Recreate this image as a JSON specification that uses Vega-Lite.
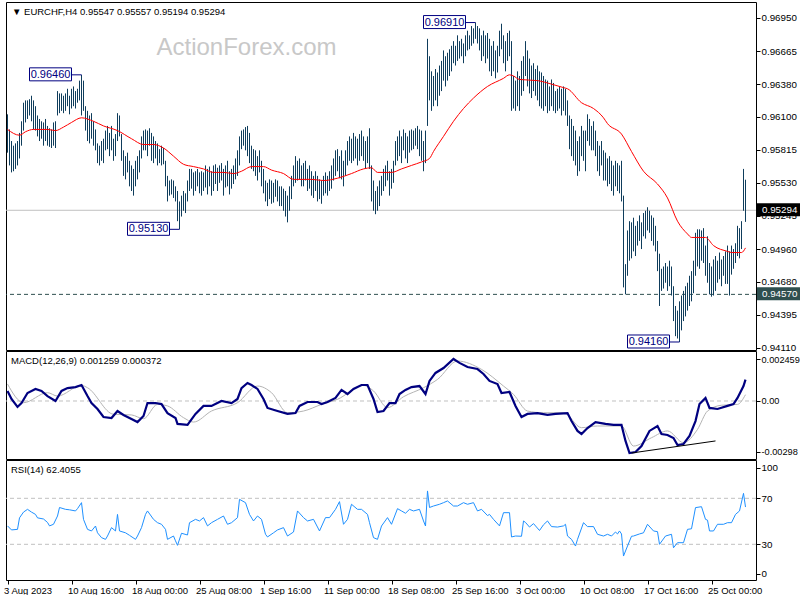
{
"$schema":"https://vega.github.io/schema/vega-lite/v6.json",
"background":"white",
"padding":{"left":2,"top":1,"right":0,"bottom":0},
"spacing":1,
"bounds":"flush",
"config":{"view":{"stroke":"#000000","strokeWidth":1},"axis":{"labelFont":"Liberation Sans","labelFontSize":9.8,"labelColor":"#000000","tickColor":"#000000","tickSize":4,"domain":false,"grid":false,"labelPadding":1,"title":null},"title":{"font":"Liberation Sans","fontSize":9.5,"fontWeight":"normal","color":"#000000","anchor":"start","frame":"group","offset":-14,"dx":5}},
"resolve":{"scale":{"x":"independent","y":"independent"}},
"datasets":{
"bars":[
{"i":0,"h":0.9612,"l":0.9579},{"i":1,"h":0.9599,"l":0.9568},{"i":2,"h":0.9589,"l":0.9562},{"i":3,"h":0.9585,"l":0.9563},{"i":4,"h":0.9587,"l":0.9565},{"i":5,"h":0.9589,"l":0.9568},{"i":6,"h":0.9596,"l":0.9574},{"i":7,"h":0.9606,"l":0.9585},{"i":8,"h":0.9622,"l":0.9598},{"i":9,"h":0.9624,"l":0.9605},
{"i":10,"h":0.9624,"l":0.9608},{"i":11,"h":0.9625,"l":0.9611},{"i":12,"h":0.9628,"l":0.9606},{"i":13,"h":0.9624,"l":0.9599},{"i":14,"h":0.9619,"l":0.9598},{"i":15,"h":0.9611,"l":0.9593},{"i":16,"h":0.9608,"l":0.9589},{"i":17,"h":0.9606,"l":0.9591},{"i":18,"h":0.9605,"l":0.9585},{"i":19,"h":0.9608,"l":0.9589},
{"i":20,"h":0.9602,"l":0.9585},{"i":21,"h":0.96,"l":0.9584},{"i":22,"h":0.9599,"l":0.9583},{"i":23,"h":0.9605,"l":0.9585},{"i":24,"h":0.9606,"l":0.9583},{"i":25,"h":0.9632,"l":0.9611},{"i":26,"h":0.963,"l":0.9613},{"i":27,"h":0.963,"l":0.9615},{"i":28,"h":0.9628,"l":0.9613},{"i":29,"h":0.963,"l":0.9615},
{"i":30,"h":0.9634,"l":0.9619},{"i":31,"h":0.9628,"l":0.9612},{"i":32,"h":0.9634,"l":0.9617},{"i":33,"h":0.9636,"l":0.9619},{"i":34,"h":0.9632,"l":0.9617},{"i":35,"h":0.9634,"l":0.9622},{"i":36,"h":0.9641,"l":0.9624},{"i":37,"h":0.9646,"l":0.9611},{"i":38,"h":0.9641,"l":0.9615},{"i":39,"h":0.9619,"l":0.9598},
{"i":40,"h":0.9615,"l":0.9589},{"i":41,"h":0.9611,"l":0.9587},{"i":42,"h":0.9613,"l":0.9591},{"i":43,"h":0.9606,"l":0.9585},{"i":44,"h":0.9599,"l":0.9581},{"i":45,"h":0.9587,"l":0.957},{"i":46,"h":0.9585,"l":0.9568},{"i":47,"h":0.9589,"l":0.9572},{"i":48,"h":0.9591,"l":0.957},{"i":49,"h":0.9598,"l":0.9581},
{"i":50,"h":0.9602,"l":0.9582},{"i":51,"h":0.9596,"l":0.9576},{"i":52,"h":0.9602,"l":0.9581},{"i":53,"h":0.9591,"l":0.9572},{"i":54,"h":0.9595,"l":0.9576},{"i":55,"h":0.9613,"l":0.9589},{"i":56,"h":0.9611,"l":0.9593},{"i":57,"h":0.9595,"l":0.9572},{"i":58,"h":0.9581,"l":0.9559},{"i":59,"h":0.9576,"l":0.9556},
{"i":60,"h":0.9579,"l":0.9562},{"i":61,"h":0.9572,"l":0.955},{"i":62,"h":0.9568,"l":0.9546},{"i":63,"h":0.9565,"l":0.9542},{"i":64,"h":0.9572,"l":0.955},{"i":65,"h":0.9576,"l":0.9556},{"i":66,"h":0.9581,"l":0.9562},{"i":67,"h":0.9593,"l":0.9574},{"i":68,"h":0.9598,"l":0.9581},{"i":69,"h":0.9599,"l":0.9581},
{"i":70,"h":0.9598,"l":0.9576},{"i":71,"h":0.96,"l":0.9585},{"i":72,"h":0.9596,"l":0.9572},{"i":73,"h":0.9593,"l":0.957},{"i":74,"h":0.9589,"l":0.9574},{"i":75,"h":0.9587,"l":0.9568},{"i":76,"h":0.9582,"l":0.957},{"i":77,"h":0.9585,"l":0.9568},{"i":78,"h":0.9583,"l":0.9569},{"i":79,"h":0.9572,"l":0.955},
{"i":80,"h":0.9559,"l":0.9537},{"i":81,"h":0.9555,"l":0.9542},{"i":82,"h":0.9556,"l":0.9543},{"i":83,"h":0.9555,"l":0.954},{"i":84,"h":0.955,"l":0.9537},{"i":85,"h":0.9546,"l":0.952},{"i":86,"h":0.9537,"l":0.9513},{"i":87,"h":0.9542,"l":0.9524},{"i":88,"h":0.9546,"l":0.9529},{"i":89,"h":0.9544,"l":0.9527},
{"i":90,"h":0.9555,"l":0.9537},{"i":91,"h":0.9565,"l":0.9546},{"i":92,"h":0.9565,"l":0.9548},{"i":93,"h":0.9562,"l":0.9542},{"i":94,"h":0.9563,"l":0.9546},{"i":95,"h":0.9565,"l":0.955},{"i":96,"h":0.9562,"l":0.9544},{"i":97,"h":0.9563,"l":0.9542},{"i":98,"h":0.9562,"l":0.9546},{"i":99,"h":0.9568,"l":0.9549},
{"i":100,"h":0.9565,"l":0.9543},{"i":101,"h":0.9567,"l":0.955},{"i":102,"h":0.9563,"l":0.9542},{"i":103,"h":0.9568,"l":0.9546},{"i":104,"h":0.9569,"l":0.9552},{"i":105,"h":0.9566,"l":0.9546},{"i":106,"h":0.9568,"l":0.9553},{"i":107,"h":0.957,"l":0.9555},{"i":108,"h":0.9565,"l":0.9542},{"i":109,"h":0.9568,"l":0.9549},
{"i":110,"h":0.9572,"l":0.955},{"i":111,"h":0.9563,"l":0.9543},{"i":112,"h":0.9565,"l":0.9548},{"i":113,"h":0.9568,"l":0.9552},{"i":114,"h":0.9574,"l":0.9556},{"i":115,"h":0.9581,"l":0.9559},{"i":116,"h":0.9593,"l":0.9568},{"i":117,"h":0.9598,"l":0.9582},{"i":118,"h":0.9599,"l":0.9585},{"i":119,"h":0.9601,"l":0.9581},
{"i":120,"h":0.9602,"l":0.9576},{"i":121,"h":0.9596,"l":0.957},{"i":122,"h":0.9585,"l":0.9565},{"i":123,"h":0.9582,"l":0.9563},{"i":124,"h":0.9581,"l":0.9559},{"i":125,"h":0.9576,"l":0.9555},{"i":126,"h":0.9581,"l":0.9562},{"i":127,"h":0.9572,"l":0.955},{"i":128,"h":0.9565,"l":0.9544},{"i":129,"h":0.9555,"l":0.9537},
{"i":130,"h":0.9553,"l":0.9533},{"i":131,"h":0.9556,"l":0.9539},{"i":132,"h":0.9555,"l":0.9535},{"i":133,"h":0.9553,"l":0.9536},{"i":134,"h":0.9556,"l":0.9541},{"i":135,"h":0.9555,"l":0.9537},{"i":136,"h":0.955,"l":0.9533},{"i":137,"h":0.955,"l":0.9533},{"i":138,"h":0.9548,"l":0.9529},{"i":139,"h":0.9546,"l":0.9524},
{"i":140,"h":0.9542,"l":0.9519},{"i":141,"h":0.955,"l":0.9529},{"i":142,"h":0.9559,"l":0.9539},{"i":143,"h":0.9568,"l":0.955},{"i":144,"h":0.9576,"l":0.9553},{"i":145,"h":0.9572,"l":0.9555},{"i":146,"h":0.9574,"l":0.9556},{"i":147,"h":0.9568,"l":0.955},{"i":148,"h":0.957,"l":0.955},{"i":149,"h":0.9572,"l":0.9555},
{"i":150,"h":0.9565,"l":0.9546},{"i":151,"h":0.9568,"l":0.9548},{"i":152,"h":0.9563,"l":0.9542},{"i":153,"h":0.9559,"l":0.954},{"i":154,"h":0.9563,"l":0.9546},{"i":155,"h":0.9559,"l":0.9537},{"i":156,"h":0.9556,"l":0.9539},{"i":157,"h":0.9555,"l":0.9535},{"i":158,"h":0.9559,"l":0.9542},{"i":159,"h":0.9562,"l":0.9544},
{"i":160,"h":0.9559,"l":0.9542},{"i":161,"h":0.9563,"l":0.9546},{"i":162,"h":0.9568,"l":0.9548},{"i":163,"h":0.9574,"l":0.9555},{"i":164,"h":0.9581,"l":0.9559},{"i":165,"h":0.9582,"l":0.9563},{"i":166,"h":0.9576,"l":0.9557},{"i":167,"h":0.9581,"l":0.9556},{"i":168,"h":0.9572,"l":0.955},{"i":169,"h":0.9581,"l":0.9559},
{"i":170,"h":0.9589,"l":0.9568},{"i":171,"h":0.9593,"l":0.9572},{"i":172,"h":0.9591,"l":0.957},{"i":173,"h":0.9596,"l":0.9572},{"i":174,"h":0.9593,"l":0.9574},{"i":175,"h":0.9591,"l":0.9568},{"i":176,"h":0.9595,"l":0.9572},{"i":177,"h":0.9598,"l":0.9576},{"i":178,"h":0.9593,"l":0.9572},{"i":179,"h":0.9589,"l":0.9565},
{"i":180,"h":0.9593,"l":0.957},{"i":181,"h":0.96,"l":0.9565},{"i":182,"h":0.9568,"l":0.9537},{"i":183,"h":0.9555,"l":0.9529},{"i":184,"h":0.9546,"l":0.9526},{"i":185,"h":0.955,"l":0.9529},{"i":186,"h":0.9555,"l":0.9533},{"i":187,"h":0.9559,"l":0.9542},{"i":188,"h":0.9565,"l":0.9546},{"i":189,"h":0.9568,"l":0.955},
{"i":190,"h":0.9572,"l":0.9555},{"i":191,"h":0.9563,"l":0.9542},{"i":192,"h":0.9565,"l":0.9548},{"i":193,"h":0.9572,"l":0.9553},{"i":194,"h":0.9589,"l":0.9568},{"i":195,"h":0.9593,"l":0.9572},{"i":196,"h":0.9598,"l":0.9576},{"i":197,"h":0.9593,"l":0.957},{"i":198,"h":0.9599,"l":0.9581},{"i":199,"h":0.9596,"l":0.9574},
{"i":200,"h":0.9593,"l":0.957},{"i":201,"h":0.9598,"l":0.9579},{"i":202,"h":0.9599,"l":0.9581},{"i":203,"h":0.9598,"l":0.9582},{"i":204,"h":0.96,"l":0.9585},{"i":205,"h":0.9602,"l":0.9582},{"i":206,"h":0.9599,"l":0.9576},{"i":207,"h":0.9598,"l":0.9572},{"i":208,"h":0.9589,"l":0.9563},{"i":209,"h":0.9598,"l":0.957},
{"i":210,"h":0.9677,"l":0.9602},{"i":211,"h":0.9662,"l":0.9624},{"i":212,"h":0.9649,"l":0.9615},{"i":213,"h":0.9645,"l":0.9619},{"i":214,"h":0.9651,"l":0.9624},{"i":215,"h":0.9648,"l":0.9619},{"i":216,"h":0.9654,"l":0.9628},{"i":217,"h":0.9658,"l":0.9632},{"i":218,"h":0.9667,"l":0.9641},{"i":219,"h":0.9662,"l":0.9636},
{"i":220,"h":0.9665,"l":0.9641},{"i":221,"h":0.9668,"l":0.9645},{"i":222,"h":0.9671,"l":0.9649},{"i":223,"h":0.9675,"l":0.9656},{"i":224,"h":0.9671,"l":0.9654},{"i":225,"h":0.968,"l":0.9658},{"i":226,"h":0.9675,"l":0.966},{"i":227,"h":0.9677,"l":0.9662},{"i":228,"h":0.9673,"l":0.9656},{"i":229,"h":0.968,"l":0.9662},
{"i":230,"h":0.9684,"l":0.9667},{"i":231,"h":0.968,"l":0.9668},{"i":232,"h":0.9688,"l":0.9671},{"i":233,"h":0.9686,"l":0.9673},{"i":234,"h":0.9691,"l":0.9677},{"i":235,"h":0.9688,"l":0.9673},{"i":236,"h":0.9686,"l":0.9667},{"i":237,"h":0.968,"l":0.9658},{"i":238,"h":0.9684,"l":0.9662},{"i":239,"h":0.968,"l":0.9656},
{"i":240,"h":0.9682,"l":0.966},{"i":241,"h":0.9677,"l":0.9649},{"i":242,"h":0.9671,"l":0.9645},{"i":243,"h":0.9675,"l":0.9649},{"i":244,"h":0.9667,"l":0.9643},{"i":245,"h":0.9671,"l":0.9648},{"i":246,"h":0.9684,"l":0.9662},{"i":247,"h":0.969,"l":0.9668},{"i":248,"h":0.968,"l":0.9656},{"i":249,"h":0.9675,"l":0.9649},
{"i":250,"h":0.9682,"l":0.9658},{"i":251,"h":0.9684,"l":0.9662},{"i":252,"h":0.9675,"l":0.9615},{"i":253,"h":0.9645,"l":0.9617},{"i":254,"h":0.9641,"l":0.9615},{"i":255,"h":0.9649,"l":0.9619},{"i":256,"h":0.9645,"l":0.9615},{"i":257,"h":0.9658,"l":0.9628},{"i":258,"h":0.9662,"l":0.9632},{"i":259,"h":0.9675,"l":0.9645},
{"i":260,"h":0.9667,"l":0.9636},{"i":261,"h":0.966,"l":0.963},{"i":262,"h":0.9654,"l":0.9626},{"i":263,"h":0.9656,"l":0.9632},{"i":264,"h":0.9651,"l":0.9628},{"i":265,"h":0.9654,"l":0.9624},{"i":266,"h":0.9649,"l":0.9619},{"i":267,"h":0.9648,"l":0.9617},{"i":268,"h":0.9645,"l":0.9615},{"i":269,"h":0.9642,"l":0.9619},
{"i":270,"h":0.9641,"l":0.9613},{"i":271,"h":0.9636,"l":0.9615},{"i":272,"h":0.9642,"l":0.9619},{"i":273,"h":0.9639,"l":0.9615},{"i":274,"h":0.9632,"l":0.9613},{"i":275,"h":0.9634,"l":0.9615},{"i":276,"h":0.9636,"l":0.9617},{"i":277,"h":0.9634,"l":0.9611},{"i":278,"h":0.9636,"l":0.9615},{"i":279,"h":0.9634,"l":0.9611},
{"i":280,"h":0.9624,"l":0.9602},{"i":281,"h":0.9611,"l":0.9582},{"i":282,"h":0.9608,"l":0.9576},{"i":283,"h":0.9602,"l":0.9572},{"i":284,"h":0.9598,"l":0.9568},{"i":285,"h":0.9589,"l":0.9559},{"i":286,"h":0.9593,"l":0.9563},{"i":287,"h":0.9602,"l":0.9576},{"i":288,"h":0.9598,"l":0.9572},{"i":289,"h":0.9598,"l":0.9563},
{"i":290,"h":0.9612,"l":0.9589},{"i":291,"h":0.9608,"l":0.9585},{"i":292,"h":0.9602,"l":0.9581},{"i":293,"h":0.9606,"l":0.9581},{"i":294,"h":0.9598,"l":0.9576},{"i":295,"h":0.9589,"l":0.9563},{"i":296,"h":0.9585,"l":0.9559},{"i":297,"h":0.9589,"l":0.9568},{"i":298,"h":0.9581,"l":0.9555},{"i":299,"h":0.9579,"l":0.9555},
{"i":300,"h":0.9574,"l":0.955},{"i":301,"h":0.9576,"l":0.9552},{"i":302,"h":0.9572,"l":0.9546},{"i":303,"h":0.9568,"l":0.9542},{"i":304,"h":0.9572,"l":0.955},{"i":305,"h":0.957,"l":0.9546},{"i":306,"h":0.9568,"l":0.9544},{"i":307,"h":0.9572,"l":0.9537},{"i":308,"h":0.9542,"l":0.9463},{"i":309,"h":0.9483,"l":0.9457},
{"i":310,"h":0.9512,"l":0.9473},{"i":311,"h":0.952,"l":0.9486},{"i":312,"h":0.9519,"l":0.9488},{"i":313,"h":0.9523,"l":0.9494},{"i":314,"h":0.9516,"l":0.949},{"i":315,"h":0.952,"l":0.9499},{"i":316,"h":0.9525,"l":0.9503},{"i":317,"h":0.9519,"l":0.9496},{"i":318,"h":0.9527,"l":0.9507},{"i":319,"h":0.9529,"l":0.9505},
{"i":320,"h":0.9532,"l":0.9512},{"i":321,"h":0.9529,"l":0.951},{"i":322,"h":0.9525,"l":0.9503},{"i":323,"h":0.9523,"l":0.9499},{"i":324,"h":0.9516,"l":0.9494},{"i":325,"h":0.9503,"l":0.9477},{"i":326,"h":0.9492,"l":0.9447},{"i":327,"h":0.9479,"l":0.946},{"i":328,"h":0.9481,"l":0.9462},{"i":329,"h":0.9484,"l":0.9467},
{"i":330,"h":0.9481,"l":0.946},{"i":331,"h":0.9486,"l":0.9464},{"i":332,"h":0.9481,"l":0.9456},{"i":333,"h":0.9464,"l":0.9434},{"i":334,"h":0.9447,"l":0.9421},{"i":335,"h":0.9443,"l":0.9419},{"i":336,"h":0.9451,"l":0.9416},{"i":337,"h":0.9456,"l":0.9426},{"i":338,"h":0.946,"l":0.9434},{"i":339,"h":0.9464,"l":0.9438},
{"i":340,"h":0.9467,"l":0.9443},{"i":341,"h":0.9473,"l":0.9447},{"i":342,"h":0.9477,"l":0.9451},{"i":343,"h":0.9486,"l":0.9458},{"i":344,"h":0.951,"l":0.9473},{"i":345,"h":0.9513,"l":0.9481},{"i":346,"h":0.9513,"l":0.9479},{"i":347,"h":0.9512,"l":0.9486},{"i":348,"h":0.9514,"l":0.9484},{"i":349,"h":0.9499,"l":0.9473},
{"i":350,"h":0.9507,"l":0.9467},{"i":351,"h":0.9484,"l":0.9457},{"i":352,"h":0.9481,"l":0.9455},{"i":353,"h":0.9487,"l":0.9456},{"i":354,"h":0.949,"l":0.946},{"i":355,"h":0.9486,"l":0.9467},{"i":356,"h":0.9493,"l":0.947},{"i":357,"h":0.9487,"l":0.9464},{"i":358,"h":0.949,"l":0.9473},{"i":359,"h":0.9494,"l":0.9466},
{"i":360,"h":0.9499,"l":0.9466},{"i":361,"h":0.9494,"l":0.9456},{"i":362,"h":0.9499,"l":0.9474},{"i":363,"h":0.9496,"l":0.9479},{"i":364,"h":0.9501,"l":0.9484},{"i":365,"h":0.9516,"l":0.949},{"i":366,"h":0.9514,"l":0.9488},{"i":367,"h":0.952,"l":0.9496},{"i":368,"h":0.9565,"l":0.9529},{"i":369,"h":0.95557,"l":0.95194}
],
"ma":[{"i":0,"v":0.9599},{"i":6,"v":0.9594},{"i":9,"v":0.9597},{"i":13,"v":0.9599},{"i":20,"v":0.9599},{"i":24,"v":0.9598},{"i":28,"v":0.9601},{"i":32,"v":0.9605},{"i":37,"v":0.9609},{"i":43,"v":0.9606},{"i":48,"v":0.9602},{"i":55,"v":0.9598},{"i":62,"v":0.9591},{"i":68,"v":0.9586},{"i":73,"v":0.9586},{"i":78,"v":0.9583},{"i":83,"v":0.9576},{"i":88,"v":0.9569},{"i":93,"v":0.9567},{"i":98,"v":0.9565},{"i":103,"v":0.9562},{"i":108,"v":0.9562},{"i":113,"v":0.9561},{"i":117,"v":0.9563},{"i":122,"v":0.9567},{"i":128,"v":0.9567},{"i":132,"v":0.9564},{"i":138,"v":0.9561},{"i":143,"v":0.9556},{"i":152,"v":0.9556},{"i":158,"v":0.9555},{"i":165,"v":0.9557},{"i":172,"v":0.9561},{"i":178,"v":0.9565},{"i":182,"v":0.9566},{"i":185,"v":0.9562},{"i":192,"v":0.9562},{"i":197,"v":0.9565},{"i":202,"v":0.9568},{"i":207,"v":0.9571},{"i":211,"v":0.9574},{"i":213,"v":0.958},{"i":218,"v":0.9593},{"i":223,"v":0.9606},{"i":228,"v":0.9617},{"i":233,"v":0.9626},{"i":240,"v":0.9636},{"i":248,"v":0.9643},{"i":251,"v":0.9646},{"i":253,"v":0.9645},{"i":256,"v":0.9642},{"i":265,"v":0.9641},{"i":272,"v":0.9638},{"i":278,"v":0.9635},{"i":280,"v":0.9634},{"i":287,"v":0.9622},{"i":293,"v":0.9617},{"i":298,"v":0.9609},{"i":300,"v":0.9604},{"i":307,"v":0.9595},{"i":312,"v":0.958},{"i":318,"v":0.9563},{"i":325,"v":0.9552},{"i":330,"v":0.954},{"i":335,"v":0.952},{"i":340,"v":0.9509},{"i":342,"v":0.9506},{"i":349,"v":0.9506},{"i":353,"v":0.9499},{"i":360,"v":0.9494},{"i":362,"v":0.9493},{"i":367,"v":0.9493},{"i":369,"v":0.9497}],
"levels":[{"p":0.95294,"t":"0.95294","kind":"bid"},{"p":0.9457,"t":"0.94570","kind":"support"}],
"notes":[{"i":37,"p":0.9646,"t":"0.96460"},{"i":86,"p":0.9513,"t":"0.95130"},{"i":234,"p":0.9691,"t":"0.96910"},{"i":336,"p":0.9416,"t":"0.94160"}],
"macd":[{"i":0,"v":0.00059},{"i":2,"v":0.00012},{"i":5,"v":-0.00035},{"i":7,"v":-0.00012},{"i":10,"v":0.00047},{"i":14,"v":0.00071},{"i":17,"v":0.00059},{"i":20,"v":0.00029},{"i":24,"v":0},{"i":27,"v":0.00059},{"i":30,"v":0.00076},{"i":34,"v":0.00082},{"i":37,"v":0.00094},{"i":40,"v":0.00029},{"i":42,"v":-0.00012},{"i":45,"v":-0.00047},{"i":48,"v":-0.00094},{"i":52,"v":-0.001},{"i":55,"v":-0.00059},{"i":58,"v":-0.00082},{"i":62,"v":-0.00106},{"i":65,"v":-0.00124},{"i":68,"v":-0.00088},{"i":70,"v":-0.00012},{"i":74,"v":-0.00012},{"i":77,"v":-0.00018},{"i":80,"v":-0.00071},{"i":84,"v":-0.001},{"i":85,"v":-0.00135},{"i":90,"v":-0.00141},{"i":94,"v":-0.00076},{"i":98,"v":-0.00029},{"i":102,"v":-0.00029},{"i":107,"v":0},{"i":112,"v":-0.00012},{"i":115,"v":0.00012},{"i":117,"v":0.00076},{"i":120,"v":0.00106},{"i":122,"v":0.00094},{"i":125,"v":0.00071},{"i":128,"v":0.00012},{"i":130,"v":-0.00041},{"i":135,"v":-0.00059},{"i":140,"v":-0.00076},{"i":144,"v":-0.00071},{"i":146,"v":-0.00029},{"i":150,"v":-0.00006},{"i":155,"v":-0.00006},{"i":157,"v":-0.00018},{"i":160,"v":-0.00006},{"i":164,"v":0.00018},{"i":167,"v":0.00065},{"i":170,"v":0.00041},{"i":173,"v":0.00071},{"i":177,"v":0.00094},{"i":180,"v":0.00094},{"i":183,"v":0.00012},{"i":185,"v":-0.00065},{"i":188,"v":-0.00059},{"i":191,"v":-0.00012},{"i":194,"v":-0.00012},{"i":196,"v":0.00041},{"i":199,"v":0.00065},{"i":202,"v":0.00082},{"i":206,"v":0.00088},{"i":209,"v":0.00041},{"i":211,"v":0.00118},{"i":214,"v":0.00165},{"i":218,"v":0.00194},{"i":223,"v":0.00247},{"i":226,"v":0.00224},{"i":230,"v":0.002},{"i":235,"v":0.00188},{"i":238,"v":0.00159},{"i":241,"v":0.00118},{"i":245,"v":0.001},{"i":247,"v":0.00047},{"i":251,"v":0.00053},{"i":254,"v":-0.00029},{"i":257,"v":-0.00094},{"i":260,"v":-0.00076},{"i":265,"v":-0.00071},{"i":270,"v":-0.00082},{"i":274,"v":-0.00076},{"i":280,"v":-0.00071},{"i":282,"v":-0.00118},{"i":285,"v":-0.00176},{"i":287,"v":-0.00194},{"i":290,"v":-0.00159},{"i":294,"v":-0.00124},{"i":299,"v":-0.00135},{"i":303,"v":-0.00141},{"i":307,"v":-0.00141},{"i":309,"v":-0.00235},{"i":311,"v":-0.00306},{"i":314,"v":-0.003},{"i":317,"v":-0.00265},{"i":321,"v":-0.00176},{"i":325,"v":-0.00147},{"i":327,"v":-0.00194},{"i":330,"v":-0.002},{"i":333,"v":-0.00218},{"i":335,"v":-0.00259},{"i":338,"v":-0.00253},{"i":341,"v":-0.00206},{"i":344,"v":-0.00118},{"i":346,"v":-0.00018},{"i":349,"v":0.00018},{"i":351,"v":-0.00041},{"i":355,"v":-0.00047},{"i":360,"v":-0.00029},{"i":363,"v":-0.00018},{"i":365,"v":0.00018},{"i":368,"v":0.00088},{"i":369,"v":0.00126}],
"signal":[{"i":0,"v":0.001},{"i":8,"v":-0.0001},{"i":20,"v":0.00049},{"i":25,"v":0.00029},{"i":37,"v":0.00092},{"i":40,"v":0.00078},{"i":53,"v":-0.00078},{"i":62,"v":-0.00082},{"i":68,"v":-0.00104},{"i":75,"v":-0.0002},{"i":80,"v":-0.00029},{"i":88,"v":-0.00098},{"i":93,"v":-0.00124},{"i":102,"v":-0.00059},{"i":115,"v":-0.0001},{"i":125,"v":0.00088},{"i":132,"v":0.00049},{"i":140,"v":-0.00069},{"i":148,"v":-0.00059},{"i":157,"v":-0.0002},{"i":165,"v":0.0001},{"i":178,"v":0.00092},{"i":183,"v":0.00059},{"i":190,"v":-0.00039},{"i":198,"v":0.00025},{"i":208,"v":0.00078},{"i":215,"v":0.00127},{"i":225,"v":0.00235},{"i":237,"v":0.00186},{"i":248,"v":0.00088},{"i":253,"v":0.00039},{"i":260,"v":-0.00059},{"i":268,"v":-0.00069},{"i":278,"v":-0.00069},{"i":287,"v":-0.00157},{"i":295,"v":-0.00147},{"i":307,"v":-0.00147},{"i":313,"v":-0.00265},{"i":322,"v":-0.00216},{"i":330,"v":-0.00176},{"i":338,"v":-0.00245},{"i":345,"v":-0.00167},{"i":350,"v":-0.00059},{"i":357,"v":-0.00025},{"i":365,"v":-0.0002},{"i":369,"v":0.00037}],
"trend":[{"i":312,"v":-0.00306},{"i":354,"v":-0.00235}],
"rsi":[{"i":0,"r":46},{"i":2,"r":42.5},{"i":5,"r":43},{"i":6,"r":53},{"i":8,"r":58},{"i":10,"r":60.4},{"i":12,"r":58},{"i":14,"r":56},{"i":15,"r":53},{"i":18,"r":52},{"i":20,"r":49},{"i":21,"r":46},{"i":23,"r":47.4},{"i":25,"r":54.6},{"i":26,"r":62},{"i":29,"r":60.4},{"i":31,"r":60},{"i":34,"r":59},{"i":35,"r":61},{"i":37,"r":66.2},{"i":38,"r":51.7},{"i":40,"r":43},{"i":42,"r":41.6},{"i":44,"r":45.9},{"i":45,"r":40},{"i":47,"r":35.8},{"i":49,"r":34.3},{"i":50,"r":37.2},{"i":52,"r":44.5},{"i":54,"r":41.6},{"i":55,"r":56},{"i":56,"r":41.6},{"i":59,"r":40},{"i":61,"r":37.8},{"i":64,"r":34.3},{"i":65,"r":37.2},{"i":67,"r":44.5},{"i":69,"r":56},{"i":70,"r":59},{"i":73,"r":51.7},{"i":75,"r":48.8},{"i":77,"r":47.4},{"i":79,"r":43},{"i":80,"r":34.3},{"i":83,"r":37.2},{"i":84,"r":33},{"i":85,"r":29.1},{"i":87,"r":39.6},{"i":90,"r":38.1},{"i":91,"r":48.8},{"i":94,"r":51.7},{"i":96,"r":50.3},{"i":98,"r":53.2},{"i":100,"r":46},{"i":102,"r":48.8},{"i":105,"r":51.7},{"i":108,"r":54.6},{"i":110,"r":47.4},{"i":112,"r":48.8},{"i":115,"r":53.2},{"i":116,"r":69.1},{"i":119,"r":66.2},{"i":121,"r":56},{"i":123,"r":50.3},{"i":125,"r":54.6},{"i":127,"r":51.7},{"i":129,"r":38.7},{"i":130,"r":36.4},{"i":133,"r":40},{"i":135,"r":42.5},{"i":138,"r":44.5},{"i":140,"r":37.2},{"i":143,"r":40.7},{"i":145,"r":59},{"i":148,"r":53.2},{"i":150,"r":50.3},{"i":153,"r":51.7},{"i":156,"r":41.6},{"i":159,"r":53.2},{"i":161,"r":53.2},{"i":164,"r":60.4},{"i":166,"r":67.1},{"i":168,"r":47.4},{"i":170,"r":51.7},{"i":172,"r":64.8},{"i":175,"r":60.4},{"i":177,"r":60.4},{"i":180,"r":56},{"i":181,"r":48.8},{"i":183,"r":35.8},{"i":185,"r":34.3},{"i":187,"r":45.9},{"i":190,"r":53.2},{"i":192,"r":47.4},{"i":195,"r":61},{"i":197,"r":59},{"i":199,"r":57},{"i":201,"r":60.4},{"i":203,"r":59},{"i":206,"r":60.4},{"i":208,"r":50.3},{"i":209,"r":45.9},{"i":210,"r":76.4},{"i":211,"r":62},{"i":213,"r":63.3},{"i":216,"r":64.8},{"i":218,"r":66.2},{"i":220,"r":67.7},{"i":223,"r":63.3},{"i":225,"r":63.3},{"i":228,"r":66.2},{"i":230,"r":64.8},{"i":233,"r":66.2},{"i":235,"r":59},{"i":237,"r":60.4},{"i":240,"r":55},{"i":241,"r":56},{"i":243,"r":51.7},{"i":246,"r":46},{"i":248,"r":57.5},{"i":251,"r":57.5},{"i":252,"r":36.4},{"i":254,"r":37.2},{"i":257,"r":37},{"i":258,"r":50.3},{"i":259,"r":49},{"i":261,"r":45},{"i":263,"r":48},{"i":266,"r":42},{"i":268,"r":47},{"i":270,"r":50.3},{"i":272,"r":45.4},{"i":275,"r":45},{"i":278,"r":46},{"i":279,"r":47.4},{"i":280,"r":37.2},{"i":282,"r":34.3},{"i":284,"r":28.5},{"i":285,"r":34.3},{"i":288,"r":48.8},{"i":290,"r":45.4},{"i":293,"r":45.4},{"i":295,"r":38.7},{"i":298,"r":37.2},{"i":300,"r":38.7},{"i":302,"r":37.2},{"i":304,"r":40.7},{"i":305,"r":39},{"i":306,"r":41.6},{"i":307,"r":39},{"i":308,"r":19.8},{"i":310,"r":28.5},{"i":312,"r":37},{"i":313,"r":37.2},{"i":316,"r":39},{"i":318,"r":40},{"i":320,"r":47.4},{"i":323,"r":41.6},{"i":325,"r":41},{"i":326,"r":30},{"i":329,"r":37.2},{"i":332,"r":38.7},{"i":333,"r":27},{"i":335,"r":31.4},{"i":338,"r":31.4},{"i":340,"r":43},{"i":342,"r":43.5},{"i":344,"r":61.9},{"i":347,"r":62.7},{"i":349,"r":51.7},{"i":350,"r":51},{"i":351,"r":41.6},{"i":353,"r":41.6},{"i":355,"r":47.4},{"i":358,"r":47.4},{"i":360,"r":48.8},{"i":362,"r":48.8},{"i":364,"r":56},{"i":366,"r":59},{"i":368,"r":74.3},{"i":369,"r":62.4}],
"rsilevels":[{"r":70},{"r":30}],
"zero":[{"v":0}],
"mark":[{"t":"ActionForex.com"}]
},
"vconcat":[
{"width":750,"height":348,
"title":{"text":"▼ EURCHF,H4  0.95547 0.95557 0.95194 0.95294","dx":6},
"layer":[
{"data":{"name":"mark"},"mark":{"type":"text","font":"Liberation Sans","fontSize":24,"color":"#c8c8c8","align":"center","baseline":"middle"},
 "encoding":{"x":{"datum":119.5,"type":"quantitative","scale":{"domain":[-0.75,374.25],"nice":false,"zero":false},"axis":null},"y":{"datum":0.9669,"type":"quantitative","scale":{"domain":[0.94091,0.97087],"nice":false,"zero":false},"axis":{"orient":"right","values":[0.9695,0.96665,0.9638,0.961,0.95815,0.9553,0.95245,0.9496,0.9468,0.94395,0.9411],"format":".5f"}},"text":{"field":"t"}}},
{"data":{"name":"levels"},"mark":{"type":"rule","strokeWidth":1},
 "encoding":{"y":{"field":"p","type":"quantitative","scale":{"domain":[0.94091,0.97087],"nice":false,"zero":false},"axis":{"orient":"right","values":[0.9695,0.96665,0.9638,0.961,0.95815,0.9553,0.95245,0.9496,0.9468,0.94395,0.9411],"format":".5f"}},
  "stroke":{"field":"kind","type":"nominal","scale":{"domain":["bid","support"],"range":["#c0c0c0","#2f4f4f"]},"legend":null},
  "strokeDash":{"field":"kind","type":"nominal","scale":{"domain":["bid","support"],"range":[[1,0],[4,3]]},"legend":null}}},
{"data":{"name":"bars"},"mark":{"type":"rule","color":"#0f3d5c","strokeWidth":1},
 "encoding":{"x":{"field":"i","type":"quantitative","scale":{"domain":[-0.75,374.25],"nice":false,"zero":false},"axis":null},
  "y":{"field":"h","type":"quantitative","scale":{"domain":[0.94091,0.97087],"nice":false,"zero":false},
   "axis":{"orient":"right","values":[0.9695,0.96665,0.9638,0.961,0.95815,0.9553,0.95245,0.9496,0.9468,0.94395,0.9411],"format":".5f"}},
  "y2":{"field":"l"}}},
{"data":{"name":"ma"},"mark":{"type":"line","color":"#ff0000","strokeWidth":1,"interpolate":"monotone"},
 "encoding":{"x":{"field":"i","type":"quantitative","scale":{"domain":[-0.75,374.25],"nice":false,"zero":false},"axis":null},"y":{"field":"v","type":"quantitative","scale":{"domain":[0.94091,0.97087],"nice":false,"zero":false},"axis":{"orient":"right","values":[0.9695,0.96665,0.9638,0.961,0.95815,0.9553,0.95245,0.9496,0.9468,0.94395,0.9411],"format":".5f"}}}},
{"data":{"name":"notes"},"mark":{"type":"rule","color":"#000080","strokeWidth":1,"xOffset":-10,"x2Offset":0},
 "encoding":{"x":{"field":"i","type":"quantitative","scale":{"domain":[-0.75,374.25],"nice":false,"zero":false},"axis":null},"x2":{"field":"i"},"y":{"field":"p","type":"quantitative","scale":{"domain":[0.94091,0.97087],"nice":false,"zero":false},"axis":{"orient":"right","values":[0.9695,0.96665,0.9638,0.961,0.95815,0.9553,0.95245,0.9496,0.9468,0.94395,0.9411],"format":".5f"}}}},
{"data":{"name":"notes"},"mark":{"type":"rect","fill":"#ffffff","stroke":"#000080","strokeWidth":1,"xOffset":-52,"x2Offset":-10,"yOffset":-7,"y2Offset":6},
 "encoding":{"x":{"field":"i","type":"quantitative","scale":{"domain":[-0.75,374.25],"nice":false,"zero":false},"axis":null},"x2":{"field":"i"},"y":{"field":"p","type":"quantitative","scale":{"domain":[0.94091,0.97087],"nice":false,"zero":false},"axis":{"orient":"right","values":[0.9695,0.96665,0.9638,0.961,0.95815,0.9553,0.95245,0.9496,0.9468,0.94395,0.9411],"format":".5f"}},"y2":{"field":"p"}}},
{"data":{"name":"notes"},"mark":{"type":"text","color":"#000080","font":"Liberation Sans","fontSize":11,"align":"center","baseline":"middle","dx":-31},
 "encoding":{"x":{"field":"i","type":"quantitative","scale":{"domain":[-0.75,374.25],"nice":false,"zero":false},"axis":null},"y":{"field":"p","type":"quantitative","scale":{"domain":[0.94091,0.97087],"nice":false,"zero":false},"axis":{"orient":"right","values":[0.9695,0.96665,0.9638,0.961,0.95815,0.9553,0.95245,0.9496,0.9468,0.94395,0.9411],"format":".5f"}},"text":{"field":"t"}}},
{"data":{"name":"levels"},"mark":{"type":"rect","xOffset":1,"x2Offset":46,"yOffset":-7,"y2Offset":6},
 "encoding":{"x":{"datum":374.25,"type":"quantitative","scale":{"domain":[-0.75,374.25],"nice":false,"zero":false},"axis":null},"x2":{"datum":374.25},"y":{"field":"p","type":"quantitative","scale":{"domain":[0.94091,0.97087],"nice":false,"zero":false},"axis":{"orient":"right","values":[0.9695,0.96665,0.9638,0.961,0.95815,0.9553,0.95245,0.9496,0.9468,0.94395,0.9411],"format":".5f"}},"y2":{"field":"p"},
  "fill":{"field":"kind","type":"nominal","scale":{"domain":["bid","support"],"range":["#000000","#2f4f4f"]},"legend":null}}},
{"data":{"name":"levels"},"mark":{"type":"text","color":"#ffffff","font":"Liberation Sans","fontSize":9.8,"align":"left","baseline":"middle","dx":6},
 "encoding":{"x":{"datum":374.25,"type":"quantitative","scale":{"domain":[-0.75,374.25],"nice":false,"zero":false},"axis":null},"y":{"field":"p","type":"quantitative","scale":{"domain":[0.94091,0.97087],"nice":false,"zero":false},"axis":{"orient":"right","values":[0.9695,0.96665,0.9638,0.961,0.95815,0.9553,0.95245,0.9496,0.9468,0.94395,0.9411],"format":".5f"}},"text":{"field":"t"}}}
]},
{"width":750,"height":108,
"title":{"text":"MACD(12,26,9) 0.001259 0.000372"},
"layer":[
{"data":{"name":"zero"},"mark":{"type":"rule","color":"#c0c0c0","strokeDash":[4,3],"strokeWidth":1},
 "encoding":{"y":{"field":"v","type":"quantitative","scale":{"domain":[-0.003412,0.002941],"nice":false,"zero":false},"axis":{"orient":"right","labelFontSize":9.2,"values":[0.002459,0,-0.00298],"labelExpr":"datum.value > 0.001 ? '0.002459' : (datum.value < -0.001 ? '-0.00298' : '0.00')"}}}},
{"data":{"name":"signal"},"mark":{"type":"line","color":"#b4b4b4","strokeWidth":1,"interpolate":"monotone"},
 "encoding":{"x":{"field":"i","type":"quantitative","scale":{"domain":[-0.75,374.25],"nice":false,"zero":false},"axis":null},"y":{"field":"v","type":"quantitative","scale":{"domain":[-0.003412,0.002941],"nice":false,"zero":false},"axis":{"orient":"right","labelFontSize":9.2,"values":[0.002459,0,-0.00298],"labelExpr":"datum.value > 0.001 ? '0.002459' : (datum.value < -0.001 ? '-0.00298' : '0.00')"}}}},
{"data":{"name":"macd"},"mark":{"type":"line","color":"#000080","strokeWidth":2.2},
 "encoding":{"x":{"field":"i","type":"quantitative","scale":{"domain":[-0.75,374.25],"nice":false,"zero":false},"axis":null},"y":{"field":"v","type":"quantitative","scale":{"domain":[-0.003412,0.002941],"nice":false,"zero":false},"axis":{"orient":"right","labelFontSize":9.2,"values":[0.002459,0,-0.00298],"labelExpr":"datum.value > 0.001 ? '0.002459' : (datum.value < -0.001 ? '-0.00298' : '0.00')"}}}},
{"data":{"name":"trend"},"mark":{"type":"line","color":"#000000","strokeWidth":1},
 "encoding":{"x":{"field":"i","type":"quantitative","scale":{"domain":[-0.75,374.25],"nice":false,"zero":false},"axis":null},"y":{"field":"v","type":"quantitative","scale":{"domain":[-0.003412,0.002941],"nice":false,"zero":false},"axis":{"orient":"right","labelFontSize":9.2,"values":[0.002459,0,-0.00298],"labelExpr":"datum.value > 0.001 ? '0.002459' : (datum.value < -0.001 ? '-0.00298' : '0.00')"}}}}
]},
{"width":750,"height":120,
"title":{"text":"RSI(14) 62.4055"},
"layer":[
{"data":{"name":"rsilevels"},"mark":{"type":"rule","color":"#c0c0c0","strokeDash":[4,3],"strokeWidth":1},
 "encoding":{"y":{"field":"r","type":"quantitative","scale":{"domain":[-1.04,103.3],"nice":false,"zero":false},"axis":{"orient":"right","values":[96.5,70,30,4.5],"labelExpr":"datum.value > 90 ? '100' : (datum.value < 10 ? '0' : format(datum.value, 'd'))"}}}},
{"data":{"name":"rsi"},"mark":{"type":"line","color":"#1e90ff","strokeWidth":1},
 "encoding":{"x":{"field":"i","type":"quantitative","scale":{"domain":[-0.75,374.25],"nice":false,"zero":false},
  "axis":{"orient":"bottom","values":[0,32,64,96,128,160,192,224,256,288,320,352],"labelAlign":"left","labelBaseline":"top","labelPadding":1,"labelOffset":-4,"labelFlush":false,"labelFontSize":9.5,"labelExpr":"['3 Aug 2023','10 Aug 16:00','18 Aug 00:00','25 Aug 08:00','1 Sep 16:00','11 Sep 00:00','18 Sep 08:00','25 Sep 16:00','3 Oct 00:00','10 Oct 08:00','17 Oct 16:00','25 Oct 00:00'][round(datum.value/32)]"}},
  "y":{"field":"r","type":"quantitative","scale":{"domain":[-1.04,103.3],"nice":false,"zero":false},
  "axis":{"orient":"right","values":[96.5,70,30,4.5],"labelExpr":"datum.value > 90 ? '100' : (datum.value < 10 ? '0' : format(datum.value, 'd'))"}}}}
]}
]
}
